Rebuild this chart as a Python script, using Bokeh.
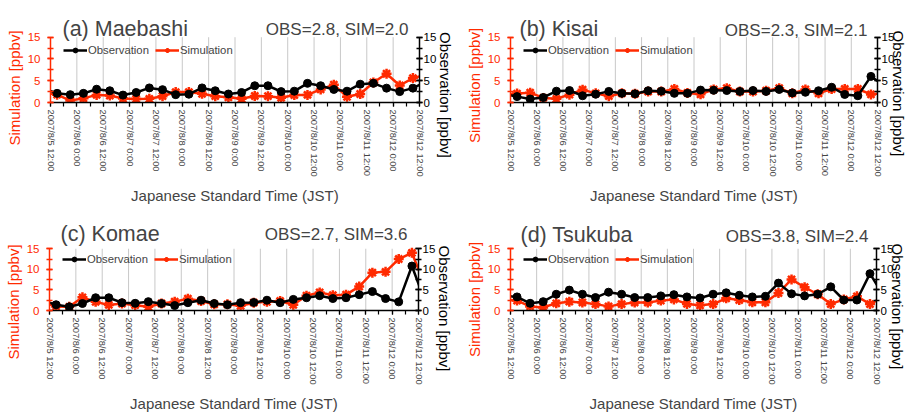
import numpy as np
from bokeh.plotting import figure
from bokeh.layouts import column, row
from bokeh.models import (Range1d, LinearAxis, FixedTicker, Label, Legend,
                          LegendItem, Title)
from bokeh.embed import file_html
from bokeh.resources import INLINE

FONT = "Liberation Sans"
RED = "#ff2a00"
BLACK = "#000000"
GRID = "#c8c8c8"

# 6-hourly samples, in hours after 2007/8/5 12:00 JST (first/last fall just outside the axis)
HOURS = list(range(-3, 172, 6))
TICK_HOURS = list(range(0, 169, 12))
TICK_LABELS = [
    "2007/8/5 12:00", "2007/8/6 0:00", "2007/8/6 12:00", "2007/8/7 0:00",
    "2007/8/7 12:00", "2007/8/8 0:00", "2007/8/8 12:00", "2007/8/9 0:00",
    "2007/8/9 12:00", "2007/8/10 0:00", "2007/8/10 12:00", "2007/8/11 0:00",
    "2007/8/11 12:00", "2007/8/12 0:00", "2007/8/12 12:00",
]
Y_TICKS = [0, 5, 10, 15]
Y_MINOR = [0, 2.5, 5, 7.5, 10, 12.5, 15]

STATIONS = ["(a) Maebashi", "(b) Kisai", "(c) Komae", "(d) Tsukuba"]
OBS_MEAN = [2.8, 2.3, 2.7, 3.8]
SIM_MEAN = [2.0, 2.1, 3.6, 2.4]

OBS_MAEBASHI = [3.2, 2.1, 1.8, 2.1, 3.05, 2.7, 1.7, 2.3, 3.35, 2.95, 1.8, 1.9, 3.35, 2.7,
                1.95, 2.3, 3.85, 3.85, 2.5, 2.6, 4.4, 3.85, 3.0, 2.6, 4.2, 4.4, 3.3, 2.5,
                3.3, 4.8]
SIM_MAEBASHI = [2.3, 1.8, 0.45, 0.95, 1.75, 1.6, 0.9, 0.8, 0.85, 1.45, 2.4, 2.4, 2.0, 1.45,
                1.2, 0.85, 1.5, 1.45, 1.1, 1.7, 1.75, 3.0, 4.1, 1.3, 1.95, 4.6, 6.6, 3.9,
                5.6, 6.4]
OBS_KISAI = [2.0, 1.35, 0.8, 1.15, 2.6, 2.75, 1.55, 1.9, 2.55, 2.1, 2.0, 2.7, 2.6, 2.1,
             2.1, 2.85, 2.8, 2.75, 2.55, 2.75, 2.55, 3.0, 2.2, 2.35, 2.7, 3.5, 1.85, 1.55,
             6.0, 3.9]
SIM_KISAI = [1.9, 2.05, 2.25, 1.05, 0.85, 1.8, 2.95, 2.1, 1.45, 2.1, 2.0, 2.5, 2.5, 3.1,
             2.2, 1.9, 3.0, 3.3, 2.5, 2.5, 2.7, 3.3, 2.1, 3.0, 2.1, 3.1, 3.1, 3.1, 1.85,
             2.3]
OBS_KOMAE = [2.4, 1.4, 0.9, 1.7, 3.1, 3.1, 1.9, 1.75, 2.15, 1.7, 1.2, 1.9, 2.5, 1.7, 1.4,
             1.9, 1.95, 2.5, 1.9, 2.7, 3.1, 3.6, 2.9, 3.1, 3.85, 4.6, 2.9, 2.1, 10.8, 2.2]
SIM_KOMAE = [2.0, 1.0, 0.9, 3.2, 2.1, 1.35, 1.7, 1.3, 0.9, 1.7, 2.15, 2.85, 2.3, 1.5, 1.5,
             1.15, 1.9, 2.1, 2.3, 1.4, 3.6, 4.4, 3.7, 3.85, 5.8, 9.2, 9.4, 12.5, 14.0, 6.0]
OBS_TSUKUBA = [3.65, 3.3, 1.75, 2.15, 3.95, 4.95, 3.95, 3.15, 4.45, 3.95, 3.15, 3.15, 3.55,
               3.85, 3.3, 3.05, 3.95, 4.3, 3.7, 3.3, 3.45, 6.65, 4.05, 3.55, 3.95, 5.75,
               2.55, 2.55, 8.95, 3.8]
SIM_TSUKUBA = [2.65, 2.4, 1.0, 0.75, 1.75, 2.15, 1.95, 1.55, 1.0, 1.55, 1.95, 1.95, 2.4,
               2.7, 1.6, 1.25, 1.55, 2.95, 2.55, 2.0, 2.0, 4.25, 7.55, 5.65, 3.95, 1.55,
               2.7, 3.45, 1.55, 3.3]

OBS_SERIES = [OBS_MAEBASHI, OBS_KISAI, OBS_KOMAE, OBS_TSUKUBA]
SIM_SERIES = [SIM_MAEBASHI, SIM_KISAI, SIM_KOMAE, SIM_TSUKUBA]

# per-panel geometry (pixels): figure size, borders, height of the 0-15 band,
# headroom above it for the panel heading, and text offsets
PANELS = [
    dict(w=462, h=207, l=50, r=43, b=104, fh=66, ext=30, tx=12, ty=7.4, oy=7.4,
         rs=-8, rv="middle", lo=-43, ro=24.5, xs=7),
    dict(w=453, h=207, l=47, r=38, b=105, fh=66, ext=30, tx=9, ty=7.7, oy=6.5,
         rs=-15, rv="bottom", lo=-40.5, ro=23, xs=7),
    dict(w=462, h=207, l=49, r=44, b=99, fh=65, ext=35, tx=11, ty=11.7, oy=11,
         rs=-8, rv="middle", lo=-49, ro=30, xs=7),
    dict(w=453, h=207, l=45, r=39, b=100, fh=65, ext=35, tx=10, ty=10.3, oy=9.5,
         rs=-15, rv="bottom", lo=-46.5, ro=28, xs=7),
]


def style_y_axis(ax, color, standoff):
    ax.ticker = FixedTicker(ticks=Y_TICKS, minor_ticks=Y_MINOR)
    ax.bounds = (0, 15)
    ax.axis_line_color = color
    ax.axis_line_width = 1.5
    ax.major_tick_line_color = color
    ax.minor_tick_line_color = color
    ax.major_tick_line_width = 1.5
    ax.minor_tick_line_width = 1.5
    ax.major_tick_in = 3
    ax.major_tick_out = 3
    ax.minor_tick_in = 3
    ax.minor_tick_out = 3
    ax.major_label_text_color = color
    ax.major_label_text_font = FONT
    ax.major_label_text_font_size = "11.5px"
    ax.major_label_standoff = standoff


def side_title(text, color, offset, standoff, valign="bottom"):
    return Title(text=text, align="left", offset=offset, standoff=standoff,
                 vertical_align=valign, text_color=color, text_font=FONT,
                 text_font_size="15px", text_font_style="normal")


def make_panel(i):
    g = PANELS[i]
    top_val = 15 + g["ext"] * 15 / g["fh"]
    p = figure(width=g["w"], height=g["h"], output_backend="svg",
               toolbar_location=None, x_range=Range1d(0, 168),
               y_range=Range1d(0, top_val),
               min_border_left=g["l"], min_border_right=g["r"],
               min_border_top=g["h"] - g["b"] - g["fh"] - g["ext"],
               min_border_bottom=g["b"])
    p.outline_line_color = None
    p.background_fill_color = "white"
    p.border_fill_color = "white"
    p.extra_y_ranges = {"obs": Range1d(0, top_val)}

    # left axis: simulation (red); right axis: observation (black)
    style_y_axis(p.yaxis[0], RED, 7)
    p.add_layout(side_title("Simulation [ppbv]", RED, g["lo"], 3), "left")

    right = LinearAxis(y_range_name="obs")
    style_y_axis(right, BLACK, 1)
    p.add_layout(right, "right")
    p.add_layout(side_title("Observation [ppbv]", BLACK, g["ro"], g["rs"], g["rv"]),
                 "right")

    xt = FixedTicker(ticks=TICK_HOURS, minor_ticks=list(range(0, 169, 6)))
    xa = p.xaxis[0]
    xa.ticker = xt
    xa.major_label_overrides = {h: lab for h, lab in zip(TICK_HOURS, TICK_LABELS)}
    xa.major_label_orientation = "vertical"
    xa.major_label_text_font = FONT
    xa.major_label_text_font_size = "9.3px"
    xa.major_label_standoff = 3
    xa.major_tick_in = 0
    xa.major_tick_out = 4
    xa.minor_tick_in = 0
    xa.minor_tick_out = 4
    xa.axis_line_width = 1.5
    xa.major_tick_line_width = 1.2
    xa.minor_tick_line_width = 1.2
    xa.axis_label = "Japanese Standard Time (JST)"
    xa.axis_label_text_font = FONT
    xa.axis_label_text_font_size = "15px"
    xa.axis_label_text_font_style = "normal"
    xa.axis_label_standoff = g["xs"]

    # vertical grid at the labelled ticks, limited to the 0-15 band
    p.xgrid.visible = False
    p.ygrid.visible = False
    p.segment(x0=TICK_HOURS, y0=[0] * len(TICK_HOURS), x1=TICK_HOURS,
              y1=[15] * len(TICK_HOURS), line_color=GRID, line_width=1,
              level="underlay")

    sim_l = p.line(HOURS, SIM_SERIES[i], line_color=RED, line_width=2.5)
    sim_m = p.scatter(HOURS, SIM_SERIES[i], marker="asterisk", size=10,
                      line_color=RED, line_width=2.5)
    obs_l = p.line(HOURS, OBS_SERIES[i], line_color=BLACK, line_width=2.5,
                   y_range_name="obs")
    obs_m = p.scatter(HOURS, OBS_SERIES[i], marker="circle", size=8,
                      fill_color=BLACK, line_color=BLACK, y_range_name="obs")

    fh = g["fh"]
    fw = g["w"] - g["l"] - g["r"]
    legend = Legend(items=[LegendItem(label="Observation", renderers=[obs_l, obs_m]),
                           LegendItem(label="Simulation", renderers=[sim_l, sim_m])],
                    location=(13, fh - 14.3 - 6), orientation="horizontal",
                    glyph_width=24, glyph_height=12, label_height=12,
                    label_standoff=1, spacing=6, padding=0, margin=0,
                    border_line_color=None, background_fill_alpha=0,
                    label_text_font=FONT, label_text_font_size="11.3px")
    p.add_layout(legend)

    p.add_layout(Label(x=g["tx"], y=fh + g["ty"], x_units="screen", y_units="screen",
                       text=STATIONS[i], text_font=FONT, text_font_size="21.5px",
                       text_align="left", text_baseline="alphabetic"))
    p.add_layout(Label(x=fw - 11, y=fh + g["oy"], x_units="screen", y_units="screen",
                       text=f"OBS={OBS_MEAN[i]:.1f}, SIM={SIM_MEAN[i]:.1f}",
                       text_font=FONT, text_font_size="17px",
                       text_align="right", text_baseline="alphabetic"))
    return p


panels = [make_panel(i) for i in range(4)]
layout = column(row(panels[0], panels[1]), row(panels[2], panels[3]))

open("out.html", "w").write(file_html(layout, INLINE))
